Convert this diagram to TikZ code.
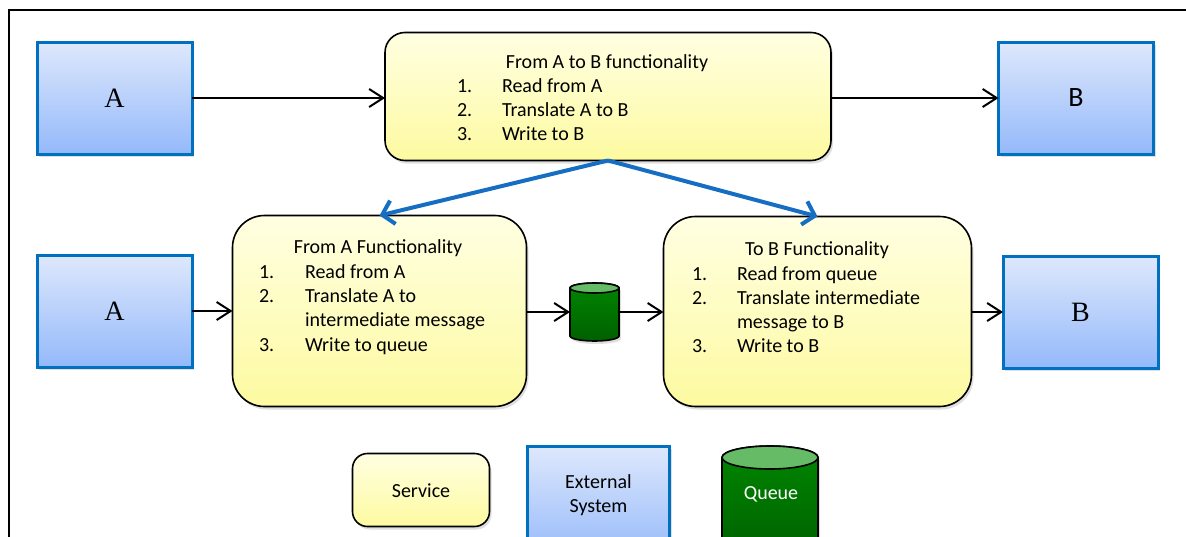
\documentclass[tikz,border=0pt]{standalone}
\usepackage{fontspec}
\setmainfont{Carlito}
\newfontfamily\serifletter{Liberation Serif}
\usetikzlibrary{arrows.meta,shadows}

\definecolor{extborder}{RGB}{0,112,192}
\definecolor{exttop}{RGB}{222,232,252}
\definecolor{extbot}{RGB}{148,185,250}
\definecolor{svctop}{RGB}{255,255,226}
\definecolor{svcbot}{RGB}{253,250,160}
\definecolor{qbody}{RGB}{0,134,0}
\definecolor{qbodydark}{RGB}{0,96,0}
\definecolor{qtop}{RGB}{102,187,102}
\definecolor{splitblue}{RGB}{22,110,195}

\begin{document}
\begin{tikzpicture}[x=1pt,y=-1pt,
  every node/.style={inner sep=0pt, outer sep=0pt},
  txt/.style={font=\fontsize{20}{24}\selectfont, text=black},
  bigletter/.style={font=\fontsize{28}{32}\selectfont},
  softshadow/.style={drop shadow={shadow xshift=2pt, shadow yshift=-3pt, opacity=0.25}},
  extsys/.style={draw=extborder, line width=3pt, top color=exttop, bottom color=extbot,
    minimum width=155pt, minimum height=112pt, softshadow},
  service/.style={draw=black, line width=1.6pt, top color=svctop, bottom color=svcbot,
    rounded corners=#1, softshadow},
  anchorbox/.style={draw=none, fill=none},
  qbodystyle/.style={draw=black, line width=1.6pt, top color=qbody, bottom color=qbodydark, softshadow},
  qtopstyle/.style={draw=black, line width=1.6pt, fill=qtop},
  flow/.style={draw=black, line width=2pt, -{Straight Barb[length=14pt,width=18pt]}},
  split/.style={draw=splitblue, line width=4pt, -{Straight Barb[length=11pt,width=24pt]}}
]
\useasboundingbox (0,0) rectangle (1186,536);
\clip (0,0) rectangle (1186,536);

% outer frame (top and left edges)
\draw[line width=2pt] (9,540) -- (9,10) -- (1190,10);

% ---------- first row: direct translation ----------
\node[extsys, bigletter] (A1) at (114.5,98) {\serifletter A};
\node[extsys, bigletter] (B1) at (1076,98) {B};
\node[service=20pt, minimum width=446pt, minimum height=128pt] (ab) at (608,96.5) {};

\node[txt, anchor=base] at (607,68) {From A to B functionality};
\node[txt, anchor=base west] at (457,92.5) {1.};
\node[txt, anchor=base west] at (502,92.5) {Read from A};
\node[txt, anchor=base west] at (457,116.5) {2.};
\node[txt, anchor=base west] at (502,116.5) {Translate A to B};
\node[txt, anchor=base west] at (457,140.5) {3.};
\node[txt, anchor=base west] at (502,140.5) {Write to B};

\draw[flow] (A1.east) -- (A1.east -| ab.west);
\draw[flow] (ab.east |- B1.west) -- (B1.west);

% ---------- second row: split through a queue ----------
\node[extsys, bigletter] (A2) at (114.5,311) {\serifletter A};
\node[extsys, bigletter] (B2) at (1080.5,312) {\serifletter B};
\node[service=32pt, minimum width=294pt, minimum height=191pt] (fa) at (379.5,311) {};
\node[service=32pt, minimum width=308pt, minimum height=190pt] (tb) at (817.5,311.5) {};

\node[txt, anchor=base] at (378,253) {From A Functionality};
\node[txt, anchor=base west] at (259,278) {1.};
\node[txt, anchor=base west] at (305,278) {Read from A};
\node[txt, anchor=base west] at (259,302) {2.};
\node[txt, anchor=base west] at (305,302) {Translate A to};
\node[txt, anchor=base west] at (305,326.5) {intermediate message};
\node[txt, anchor=base west] at (259,351) {3.};
\node[txt, anchor=base west] at (305,351) {Write to queue};

\node[txt, anchor=base] at (817,255) {To B Functionality};
\node[txt, anchor=base west] at (692,280) {1.};
\node[txt, anchor=base west] at (737,280) {Read from queue};
\node[txt, anchor=base west] at (692,304) {2.};
\node[txt, anchor=base west] at (737,304) {Translate intermediate};
\node[txt, anchor=base west] at (737,328) {message to B};
\node[txt, anchor=base west] at (692,352.5) {3.};
\node[txt, anchor=base west] at (737,352.5) {Write to B};

% queue between the two services
\node[anchorbox, minimum width=49pt, minimum height=58pt] (q) at (594.5,312) {};
\draw[qbodystyle] (570,288) -- (570,336)
  arc[start angle=180, end angle=0, x radius=24.5, y radius=5]
  -- (619,288)
  arc[start angle=0, end angle=-180, x radius=24.5, y radius=5] -- cycle;
\draw[qtopstyle] (594.5,288) ellipse[x radius=24.5, y radius=5];

\draw[flow] (A2.east) -- (A2.east -| fa.west);
\draw[flow] (fa.east |- q.west) -- (q.west);
\draw[flow] (q.east) -- (q.east -| tb.west);
\draw[flow] (tb.east |- B2.west) -- (B2.west);

% split of the single service into two
\draw[split] (ab.south) -- (fa.north);
\draw[split] (ab.south) -- (tb.north);

% ---------- legend ----------
\node[service=15pt, minimum width=137pt, minimum height=73pt] (svcL) at (421,490) {};
\node[txt, anchor=base] at (421,497) {Service};

\node[extsys, minimum width=142pt, minimum height=114pt] (extL) at (598.5,503) {};
\node[txt, anchor=base] at (598.5,488) {External};
\node[txt, anchor=base] at (598.5,512) {System};

\draw[qbodystyle] (722,457.5) -- (722,560) -- (818,560) -- (818,457.5)
  arc[start angle=0, end angle=-180, x radius=48, y radius=11.5] -- cycle;
\draw[qtopstyle] (770,457.5) ellipse[x radius=48, y radius=11.5];
\node[txt, anchor=base, text=white] (qL) at (771,499) {Queue};
\end{tikzpicture}
\end{document}
